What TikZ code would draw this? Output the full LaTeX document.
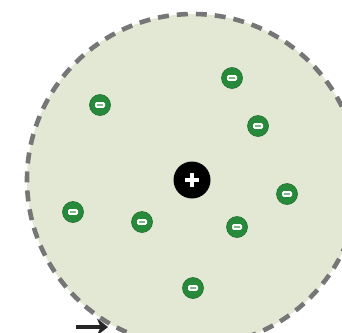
\documentclass[tikz,border=0pt]{standalone}
\usepackage{tikz}
\usetikzlibrary{arrows.meta}

\definecolor{cloudfill}{RGB}{227,232,213}
\definecolor{cloudedge}{RGB}{118,118,118}
\definecolor{elecgreen}{RGB}{38,138,58}

\begin{document}
\begin{tikzpicture}[
    x=1pt, y=-1pt,
    >=Stealth,
    cloud/.style={circle, fill=cloudfill, draw=cloudedge, line width=4.6pt, dash pattern=on 11pt off 8pt, minimum size=332pt, inner sep=0pt},
    nucleus/.style={circle, fill=black, minimum size=37pt, inner sep=0pt},
    electron/.style={circle, fill=elecgreen, draw=elecgreen!80!black, line width=0.6pt, minimum size=21pt, inner sep=0pt},
    arr/.style={-{Stealth[length=11pt, width=17pt]}, line width=3.4pt, color=black!85},
]

\useasboundingbox (0,0) rectangle (342,332);
\clip (0,0) rectangle (342,332);

% ---- electron cloud ----
\node[cloud] (atom) at (193,180) {};

% ---- arrow peeking in at the bottom ----
\coordinate (arrS) at (76,327);
\coordinate (arrE) at (108,327);
\draw[arr] (arrS) -- (arrE);

% ---- nucleus ----
\node[nucleus] (core) at (192,180) {};
\draw[white, line width=4pt] ([xshift=-7pt]core.center) -- ([xshift=7pt]core.center);
\draw[white, line width=4pt] ([yshift=-7pt]core.center) -- ([yshift=7pt]core.center);

% ---- electrons ----
\foreach \n/\px/\py in {1/100/105, 2/232/78, 3/258/126, 4/287/194, 5/237/227, 6/142/222, 7/73/212, 8/193/288} {
  \node[electron] (e\n) at (\px,\py) {};
  \fill[white, rounded corners=1.5pt] ([xshift=-5pt, yshift=-2.8pt]e\n.center) rectangle ([xshift=5pt, yshift=2.8pt]e\n.center);
  \fill[elecgreen!60!white] ([xshift=-2.6pt, yshift=-0.7pt]e\n.center) rectangle ([xshift=2.6pt, yshift=0.7pt]e\n.center);
}

\end{tikzpicture}
\end{document}
